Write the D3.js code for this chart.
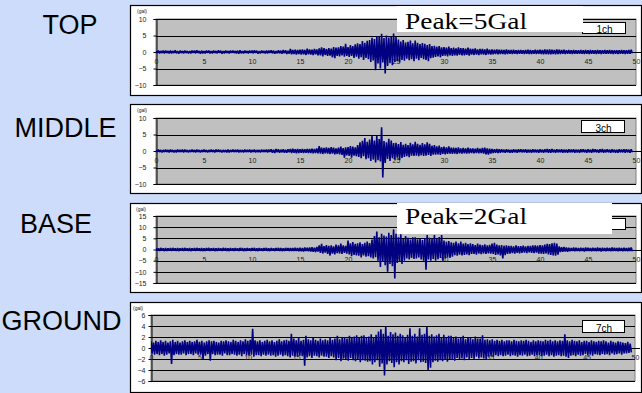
<!DOCTYPE html>
<html>
<head>
<meta charset="utf-8">
<script src="https://cdn.jsdelivr.net/npm/d3@7"></script>
<style>
  html, body { margin: 0; padding: 0; background: #cddcfa; }
  svg { display: block; }
</style>
</head>
<body>
<svg id="chart" width="642" height="393"></svg>
<script>
// ---- data -------------------------------------------------------------
// Acceleration envelopes (gal) sampled every 0.25 s from 0 s to 49.5 s:
// *Hi = upper peak in each sample window, *Lo = lower peak.
const STEP = 0.25;
const xTicks = [0, 5, 10, 15, 20, 25, 30, 35, 40, 45, 50];
const panelNames = ["TOP", "MIDDLE", "BASE", "GROUND"];
const channelNames = ["1ch", "3ch", "5ch", "7ch"];
const peakNotes = ["Peak=5Gal", "", "Peak=2Gal", ""];
const unitLabel = "(gal)";
const yTicksTop = [-10, -5, 0, 5, 10];
const yTicksMiddle = [-10, -5, 0, 5, 10];
const yTicksBase = [-15, -10, -5, 0, 5, 10, 15];
const yTicksGround = [-6, -4, -2, 0, 2, 4, 6];

const topHi = [
  .3,.4,.3,.4, .4,.3,.4,.3, .5,.3,.4,.3, .4,.3,.3,.4, .4,.5,.3,.4,
  .3,.4,.4,.3, .4,.3,.5,.4, .3,.4,.3,.4, .4,.3,.4,.5, .3,.4,.3,.4,
  .4,.5,.4,.3, .4,.3,.4,.4, .5,.4,.3,.5, .4,.6,.5,.4, .9,.6,.7,.6,
  .7,.8,.6,1.0, .8,.7,.9,.8, 1.1,1.4,1.2,.9, 1.2,1.0,1.5,1.3, 1.4,1.8,1.6,2.5,
  1.5,2.1,1.8,2.3, 2.6,2.4,3.3,2.8, 3.4,3.6,4.3,3.9, 4.8,4.6,5.5,4.2, 5.0,4.4,4.7,5.6,
  4.5,3.8,3.2,3.6, 2.9,3.1,3.5,2.6, 3.5,2.8,2.4,2.7, 2.5,2.1,2.4,1.8, 1.9,1.6,1.8,1.4,
  1.5,1.3,1.6,1.2, 1.3,1.1,1.4,1.2, 1.2,1.0,1.3,1.0, .9,1.1,.8,.9, .9,.8,1.0,.7,
  .8,.7,.8,.7, .7,.6,.8,.6, .6,.7,.5,.6, .6,.5,.6,.7, .6,.5,.7,.6,
  .7,.6,.8,.7, .8,.7,.6,.8, .7,.6,.7,.5, .6,.5,.6,.5, .5,.6,.5,.6,
  .5,.6,.5,.5, .6,.5,.5,.6, .5,.6,.5,.5, .5,.5,.6,.5, .5,.6,.7
];
const topLo = [
  -.3,-.4,-.3,-.4, -.3,-.4,-.4,-.3, -.4,-.5,-.3,-.4, -.3,-.4,-.4,-.3, -.4,-.3,-.5,-.4,
  -.4,-.3,-.4,-.4, -.3,-.4,-.3,-.5, -.4,-.3,-.4,-.3, -.3,-.4,-.5,-.4, -.4,-.3,-.4,-.3,
  -.4,-.3,-.5,-.4, -.3,-.4,-.4,-.3, -.4,-.5,-.4,-.4, -.5,-.4,-.6,-.5, -.7,-.6,-.8,-.6,
  -.8,-.7,-.9,-.7, -.8,-.9,-.7,-1.0, -1.0,-1.3,-.9,-1.2, -1.1,-1.6,-1.9,-1.2, -1.3,-1.0,-1.4,-1.2,
  -1.5,-1.2,-1.8,-1.4, -2.0,-1.6,-2.4,-1.8, -2.2,-3.0,-2.6,-5.5, -3.5,-5.0,-3.2,-6.5, -4.2,-3.4,-4.0,-3.0,
  -2.8,-3.2,-2.4,-2.6, -2.0,-2.5,-2.2,-2.8, -2.0,-2.5,-1.8,-2.2, -2.4,-2.8,-1.9,-1.7, -1.5,-1.3,-1.6,-1.2,
  -1.1,-1.3,-1.0,-1.2, -1.0,-1.1,-.9,-1.0, -1.0,-.9,-1.1,-.8, -.9,-.8,-.9,-.7, -.8,-.9,-.7,-.8,
  -.7,-.6,-.7,-.6, -.6,-.7,-.6,-.5, -.6,-.5,-.6,-.5, -.5,-.6,-.5,-.6, -.6,-.5,-.6,-.5,
  -.6,-.7,-.6,-.7, -.7,-.6,-.7,-.6, -.6,-.5,-.6,-.5, -.5,-.6,-.5,-.5, -.5,-.5,-.6,-.5,
  -.6,-.5,-.5,-.6, -.5,-.6,-.5,-.5, -.5,-.5,-.6,-.5, -.6,-.5,-.5,-.6, -.5,-.5,-.4
];

const middleHi = [
  .3,.4,.3,.3, .4,.3,.4,.3, .3,.4,.3,.4, .4,.3,.3,.4, .3,.4,.3,.3,
  .4,.3,.3,.4, .3,.4,.4,.3, .3,.3,.4,.3, .4,.3,.4,.3, .3,.4,.3,.4,
  .3,.4,.3,.3, .4,.3,.4,.4, .5,.4,.6,.5, .4,.5,.4,.5, .6,.7,.5,.6,
  .5,.6,.5,.6, .6,.7,.6,.8, 1.5,1.0,.9,1.1, .9,1.2,1.0,.8, 1.0,1.3,.9,1.1,
  1.2,1.5,1.3,1.1, 1.8,2.6,3.1,3.9, 2.8,3.5,4.5,3.2, 4.5,3.6,7.2,3.0, 2.6,3.7,3.2,2.4,
  2.5,2.1,2.7,1.9, 2.2,1.8,2.5,2.0, 2.8,2.2,1.9,2.4, 2.0,2.6,2.2,1.6, 1.8,1.4,1.6,1.2,
  1.3,1.1,1.4,1.0, 1.0,.9,1.1,.8, .9,.8,1.0,.8, .8,.7,.9,.7, .9,1.0,.8,.7,
  .6,.5,.6,.5, .5,.4,.5,.4, .4,.5,.4,.5, .5,.4,.5,.4, .4,.5,.4,.4,
  .5,.4,.5,.6, .5,.6,.4,.5, .4,.5,.4,.4, .5,.4,.5,.4, .4,.5,.5,.4,
  .5,.4,.6,.5, .4,.5,.6,.4, .5,.4,.5,.4, .4,.5,.4,.5, .5,.4,.5
];
const middleLo = [
  -.3,-.3,-.4,-.3, -.3,-.4,-.3,-.4, -.4,-.3,-.3,-.4, -.3,-.4,-.3,-.3, -.4,-.3,-.4,-.3,
  -.3,-.4,-.3,-.3, -.4,-.3,-.3,-.4, -.3,-.4,-.4,-.3, -.3,-.3,-.4,-.3, -.4,-.3,-.3,-.4,
  -.3,-.4,-.3,-.4, -.3,-.3,-.4,-.3, -.5,-.6,-.4,-.5, -.4,-.5,-.5,-.4, -.6,-.5,-.7,-.6,
  -.5,-.6,-.5,-.6, -.6,-.7,-.6,-.7, -.8,-.9,-.7,-.8, -.9,-.8,-1.0,-.9, -1.0,-1.2,-2.0,-1.3,
  -1.5,-2.0,-1.4,-1.6, -1.8,-2.2,-1.6,-2.5, -2.2,-3.0,-2.6,-3.5, -2.8,-3.2,-8.0,-3.6, -2.4,-3.0,-2.2,-2.6,
  -2.0,-2.7,-2.1,-1.8, -1.6,-1.9,-1.4,-1.5, -1.4,-1.6,-1.3,-1.5, -1.4,-1.2,-1.5,-1.1, -1.1,-1.0,-1.2,-.9,
  -1.0,-.9,-.8,-.9, -.8,-.9,-.7,-.8, -.7,-.8,-.7,-.6, -.7,-.6,-.7,-.6, -.8,-1.0,-1.1,-.8,
  -.6,-.5,-.6,-.5, -.4,-.5,-.4,-.5, -.5,-.4,-.5,-.4, -.4,-.4,-.5,-.4, -.5,-.4,-.4,-.5,
  -.4,-.5,-.4,-.5, -.5,-.4,-.5,-.4, -.4,-.5,-.4,-.5, -.4,-.4,-.5,-.4, -.5,-.4,-.4,-.5,
  -.4,-.5,-.4,-.4, -.5,-.4,-.5,-.4, -.4,-.5,-.4,-.5, -.5,-.4,-.4,-.5, -.4,-.5,-.4
];

const baseHi = [
  .6,.5,.7,.5, .6,.5,.6,.7, .5,.6,.5,.6, .7,.5,.6,.5, .6,.7,.5,.6,
  .5,.6,.7,.5, .6,.5,.6,.5, .7,.6,.5,.6, .5,.6,.5,.7, .6,.5,.6,.5,
  .6,.7,.5,.6, .5,.6,.7,.5, .6,.5,.6,.7, .6,.5,.7,.6, .7,.6,.8,.6,
  .8,.7,.9,.8, .9,1.0,.8,1.1, 1.8,2.5,1.5,2.0, 1.6,1.9,1.4,2.2, 1.8,2.6,1.9,1.6,
  4.0,2.8,3.3,2.5, 2.8,3.2,2.4,3.0, 3.5,2.9,4.5,6.0, 8.0,5.5,7.0,6.2, 5.8,7.5,6.5,9.0,
  7.0,5.5,6.8,4.8, 6.0,5.2,4.5,5.5, 5.5,4.6,5.0,4.2, 5.0,6.5,5.2,4.8, 6.5,4.9,5.6,6.5,
  4.0,3.5,3.8,3.2, 3.0,3.6,2.8,3.5, 2.6,3.0,2.4,2.8, 2.4,2.0,2.6,2.2, 2.0,2.3,1.8,2.1,
  2.6,3.0,2.2,1.9, 2.0,1.7,1.9,1.6, 1.6,1.4,1.8,1.5, 1.5,1.7,1.4,1.6, 1.6,1.8,1.9,1.7,
  2.0,1.8,2.2,2.5, 2.4,2.8,3.0,2.6, 1.4,1.0,1.1,.9, .8,.7,.9,.8, .7,.8,.7,.9,
  .8,.7,.8,.7, .9,.7,.8,.7, .8,.7,.9,.8, .7,.8,.7,.8, .7,.8,.9
];
const baseLo = [
  -.5,-.6,-.5,-.7, -.6,-.5,-.6,-.5, -.6,-.7,-.5,-.6, -.5,-.6,-.7,-.5, -.6,-.5,-.6,-.7,
  -.6,-.5,-.6,-.5, -.7,-.6,-.5,-.6, -.5,-.6,-.7,-.5, -.6,-.5,-.6,-.5, -.7,-.6,-.5,-.6,
  -.5,-.6,-.7,-.5, -.6,-.5,-.6,-.7, -.5,-.6,-.5,-.6, -.7,-.6,-.5,-.6, -.6,-.7,-.6,-.8,
  -.8,-.9,-.7,-.8, -.9,-1.0,-1.1,-.9, -1.5,-1.8,-1.4,-2.0, -2.7,-1.9,-2.2,-1.6, -1.8,-2.0,-1.5,-1.9,
  -2.2,-3.0,-2.4,-2.6, -2.8,-3.5,-2.6,-3.2, -3.0,-3.6,-4.0,-3.4, -5.0,-7.8,-5.5,-7.0, -10.0,-6.5,-7.5,-13.0,
  -6.0,-5.5,-6.5,-5.0, -4.0,-4.5,-3.8,-4.2, -4.0,-3.6,-4.5,-5.0, -9.0,-4.5,-5.0,-4.2, -5.0,-4.4,-3.8,-5.0,
  -4.0,-3.5,-3.8,-3.2, -2.5,-2.8,-2.3,-2.6, -2.4,-2.2,-2.5,-2.0, -2.0,-2.3,-1.8,-2.1, -1.8,-2.0,-1.7,-1.9,
  -2.0,-2.4,-2.2,-2.6, -4.0,-2.5,-2.0,-1.8, -1.6,-1.8,-1.5,-1.7, -1.5,-1.4,-1.6,-1.3, -1.5,-1.6,-1.4,-1.8,
  -1.8,-2.0,-1.7,-2.2, -2.4,-2.6,-2.8,-2.3, -1.2,-1.0,-.9,-1.0, -.8,-.7,-.8,-.7, -.8,-.7,-.9,-.7,
  -.7,-.8,-.7,-.8, -.7,-.9,-.7,-.8, -.7,-.8,-.7,-.7, -.8,-.7,-.8,-.7, -.8,-.7,-.8
];

const groundHi = [
  1.2,1.0,1.3,1.1, 1.4,1.1,1.3,1.0, 1.2,1.5,1.1,1.3, 1.0,1.2,1.4,1.1, 1.3,1.1,1.2,1.5,
  1.1,1.3,1.0,1.2, 1.4,1.2,1.3,1.1, 1.0,1.3,1.2,1.4, 1.2,1.1,1.5,1.3, 1.1,1.4,1.2,1.6,
  1.3,1.5,3.5,1.4, 1.2,1.4,1.1,1.3, 1.5,1.2,1.4,1.1, 1.3,1.6,1.2,1.4, 1.5,1.3,2.6,1.7,
  1.4,1.8,1.3,1.5, 2.2,1.6,1.4,1.9, 1.5,1.3,1.7,1.4, 1.6,1.4,1.8,1.5, 1.7,2.2,1.6,1.9,
  2.0,1.7,2.2,1.8, 2.1,2.3,1.9,2.2, 2.3,1.8,2.1,2.5, 2.0,2.4,3.0,3.4, 2.6,4.0,2.2,2.9,
  2.5,2.8,2.2,2.6, 2.3,2.0,2.4,3.6, 2.2,2.6,2.1,3.6, 2.4,2.6,3.8,2.2, 2.5,2.1,2.3,2.6,
  2.0,2.4,1.9,2.2, 2.2,1.8,2.1,1.7, 1.9,2.2,1.6,2.0, 1.8,1.6,2.1,1.7, 1.7,2.3,1.5,1.6,
  1.4,1.6,1.3,1.5, 1.3,1.5,1.2,1.4, 1.4,1.2,1.5,1.3, 1.2,1.4,1.3,1.5, 1.3,1.1,1.4,1.2,
  1.4,1.3,1.2,1.5, 1.3,1.5,1.2,1.4, 1.2,1.4,1.3,2.5, 1.4,1.2,1.5,1.3, 1.2,1.4,1.1,1.3,
  1.3,1.1,1.4,1.2, 1.1,1.3,1.2,1.4, 1.2,1.0,1.3,1.1, 1.0,1.2,1.1,1.0, 0.9,1.1,0.8
];
const groundLo = [
  -1.0,-1.2,-1.1,-1.3, -1.1,-1.4,-1.2,-1.0, -2.9,-1.3,-1.1,-1.2, -1.2,-1.0,-1.3,-1.1, -1.1,-1.3,-1.0,-1.2,
  -1.2,-2.1,-1.4,-1.1, -2.3,-1.1,-1.3,-1.2, -1.2,-1.4,-1.0,-1.3, -1.3,-1.1,-1.2,-1.4, -1.2,-1.5,-1.1,-1.3,
  -1.4,-1.2,-1.6,-1.3, -1.3,-1.5,-1.2,-1.4, -1.2,-1.4,-1.3,-1.6, -1.4,-1.2,-1.5,-1.3, -1.5,-1.7,-1.4,-1.6,
  -1.6,-1.4,-1.5,-3.2, -1.7,-1.5,-1.8,-1.4, -1.5,-1.7,-1.4,-1.6, -1.6,-1.8,-1.5,-1.7, -2.2,-1.8,-2.4,-1.9,
  -2.0,-2.3,-1.8,-2.2, -2.4,-2.0,-2.6,-2.2, -2.3,-2.5,-2.4,-3.0, -2.6,-2.2,-3.4,-2.8, -5.0,-3.0,-2.4,-2.7,
  -3.5,-2.6,-3.0,-2.4, -2.6,-2.2,-2.9,-2.5, -2.4,-2.8,-2.2,-2.6, -2.5,-2.7,-4.0,-3.6, -2.6,-2.3,-2.5,-2.2,
  -2.4,-2.1,-2.5,-2.0, -2.0,-2.3,-1.8,-2.1, -1.9,-2.2,-1.7,-2.0, -1.8,-2.0,-1.6,-1.9, -1.7,-1.9,-2.0,-1.6,
  -1.4,-1.6,-1.3,-1.5, -1.3,-1.5,-1.4,-1.2, -1.5,-1.3,-1.4,-1.6, -1.3,-1.4,-1.2,-1.5, -1.4,-1.2,-1.5,-1.3,
  -1.3,-1.5,-1.4,-1.2, -1.5,-1.3,-1.6,-1.4, -1.3,-1.5,-1.4,-1.6, -1.8,-1.4,-1.3,-1.5, -1.2,-1.4,-1.3,-1.1,
  -1.3,-1.2,-1.4,-1.1, -1.2,-1.3,-1.1,-1.2, -1.1,-1.3,-1.0,-1.2, -1.1,-1.0,-1.2,-1.0, -1.0,-0.9,-0.8
];

// ---- layout -----------------------------------------------------------
const panels = [
  { name: panelNames[0], ch: channelNames[0], note: peakNotes[0], hi: topHi,    lo: topLo,    ticks: yTicksTop },
  { name: panelNames[1], ch: channelNames[1], note: peakNotes[1], hi: middleHi, lo: middleLo, ticks: yTicksMiddle },
  { name: panelNames[2], ch: channelNames[2], note: peakNotes[2], hi: baseHi,   lo: baseLo,   ticks: yTicksBase },
  { name: panelNames[3], ch: channelNames[3], note: peakNotes[3], hi: groundHi, lo: groundLo, ticks: yTicksGround }
];
const frames = [
  { boxY: 5,   boxH: 90, l: 156, r: 636, t: 19,  b: 85,  gap: 7, unitX: 137, titleX: 70,   titleY: 34,
    legend: { x: 582, y: 22, w: 43, h: 11 }, noteBox: { x: 397, y: 6,   w: 186, h: 26 }, noteY: 29, showCh: true },
  { boxY: 104, boxH: 89, l: 156, r: 636, t: 118, b: 184, gap: 7, unitX: 137, titleX: 65.5, titleY: 136.5,
    legend: { x: 581, y: 120, w: 43, h: 12 }, showCh: true },
  { boxY: 203, boxH: 89, l: 156, r: 636, t: 216, b: 283, gap: 7, unitX: 136, titleX: 56,   titleY: 233,
    legend: { x: 582, y: 218, w: 43, h: 11 }, noteBox: { x: 397, y: 203, w: 215, h: 31 }, noteY: 224, showCh: false },
  { boxY: 302, boxH: 90, l: 151, r: 635, t: 315, b: 381, gap: 3, unitX: 133, titleX: 61.5, titleY: 330,
    legend: { x: 582, y: 320, w: 42, h: 12 }, showCh: true }
];

const svg = d3.select("#chart");
const axisFont = "'Liberation Sans', Arial, sans-serif";
const fmt = d => (d < 0 ? "\u2212" + Math.abs(d) : String(d));

panels.forEach((p, k) => {
  const f = frames[k];
  const g = svg.append("g");

  // station name on the blue margin
  g.append("text")
    .attr("x", f.titleX).attr("y", f.titleY)
    .attr("text-anchor", "middle")
    .attr("font-family", axisFont).attr("font-size", 27)
    .attr("fill", "#000")
    .text(p.name);

  // white chart frame
  g.append("rect")
    .attr("x", 130.5).attr("y", f.boxY + 0.5)
    .attr("width", 511).attr("height", f.boxH)
    .attr("fill", "#fff").attr("stroke", "#000").attr("stroke-width", 1.2);

  const x = d3.scaleLinear().domain([0, 50]).range([f.l, f.r]);
  const y = d3.scaleLinear().domain(d3.extent(p.ticks)).range([f.b, f.t]);

  // plot area
  g.append("rect")
    .attr("x", f.l).attr("y", f.t)
    .attr("width", f.r - f.l).attr("height", f.b - f.t)
    .attr("fill", "#c0c0c0").attr("stroke", "#808080").attr("stroke-width", 1);

  // horizontal gridlines
  g.append("g").selectAll("line").data(p.ticks).join("line")
    .attr("x1", f.l).attr("x2", f.r)
    .attr("y1", d => Math.round(y(d)) + 0.5).attr("y2", d => Math.round(y(d)) + 0.5)
    .attr("stroke", "#000").attr("stroke-width", 1);

  // value axis
  const ya = g.append("g")
    .attr("transform", `translate(${f.l + 0.5},0)`)
    .call(d3.axisLeft(y).tickValues(p.ticks).tickSize(3).tickPadding(f.gap).tickFormat(fmt));
  ya.select(".domain").attr("stroke", "#000");
  ya.selectAll("text").attr("font-family", axisFont).attr("font-size", 7).attr("fill", "#222");

  // unit caption
  g.append("text")
    .attr("x", f.unitX).attr("y", f.boxY + 8)
    .attr("font-family", axisFont).attr("font-size", 5).attr("fill", "#222")
    .text(unitLabel);

  // time axis along the zero line
  const y0 = Math.round(y(0)) + 0.5;
  const xa = g.append("g")
    .attr("transform", `translate(0,${y0})`)
    .call(d3.axisBottom(x).tickValues(xTicks).tickSize(0).tickPadding(7));
  xa.select(".domain").remove();
  xa.selectAll("text").attr("font-family", axisFont).attr("font-size", 7).attr("fill", "#222");
  g.append("line")
    .attr("x1", f.l).attr("x2", f.r + 5).attr("y1", y0).attr("y2", y0)
    .attr("stroke", "#000").attr("stroke-width", 1);

  // waveform: alternate between the upper and lower peak of each window
  const clipId = "clip" + k;
  svg.append("clipPath").attr("id", clipId)
    .append("rect").attr("x", f.l).attr("y", f.t).attr("width", f.r - f.l).attr("height", f.b - f.t);
  const pts = [];
  p.hi.forEach((v, i) => {
    pts.push([i * STEP, v]);
    pts.push([i * STEP + STEP / 2, p.lo[i]]);
  });
  g.append("path")
    .datum(pts)
    .attr("clip-path", `url(#${clipId})`)
    .attr("fill", "none")
    .attr("stroke", "#000080").attr("stroke-width", 1.6)
    .attr("stroke-linejoin", "bevel")
    .attr("d", d3.line().x(d => x(d[0])).y(d => y(d[1])));

  // legend box
  const L = f.legend;
  g.append("rect")
    .attr("x", L.x + 0.5).attr("y", L.y + 0.5).attr("width", L.w).attr("height", L.h)
    .attr("fill", "#fff").attr("stroke", "#000").attr("stroke-width", 1);
  if (f.showCh) {
    g.append("text")
      .attr("x", L.x + L.w / 2 + 1).attr("y", L.y + L.h)
      .attr("text-anchor", "middle")
      .attr("font-family", axisFont).attr("font-size", 10).attr("fill", "#000")
      .text(p.ch);
  }

  // peak annotation
  if (f.noteBox && p.note) {
    const N = f.noteBox;
    g.append("rect")
      .attr("x", N.x).attr("y", N.y).attr("width", N.w).attr("height", N.h)
      .attr("fill", "#fff");
    g.append("text")
      .attr("x", N.x + 8).attr("y", f.noteY)
      .attr("font-family", "'Liberation Serif', 'Times New Roman', serif")
      .attr("font-size", 24).attr("fill", "#000")
      .attr("textLength", 122).attr("lengthAdjust", "spacingAndGlyphs")
      .text(p.note);
  }
});
</script>
</body>
</html>
